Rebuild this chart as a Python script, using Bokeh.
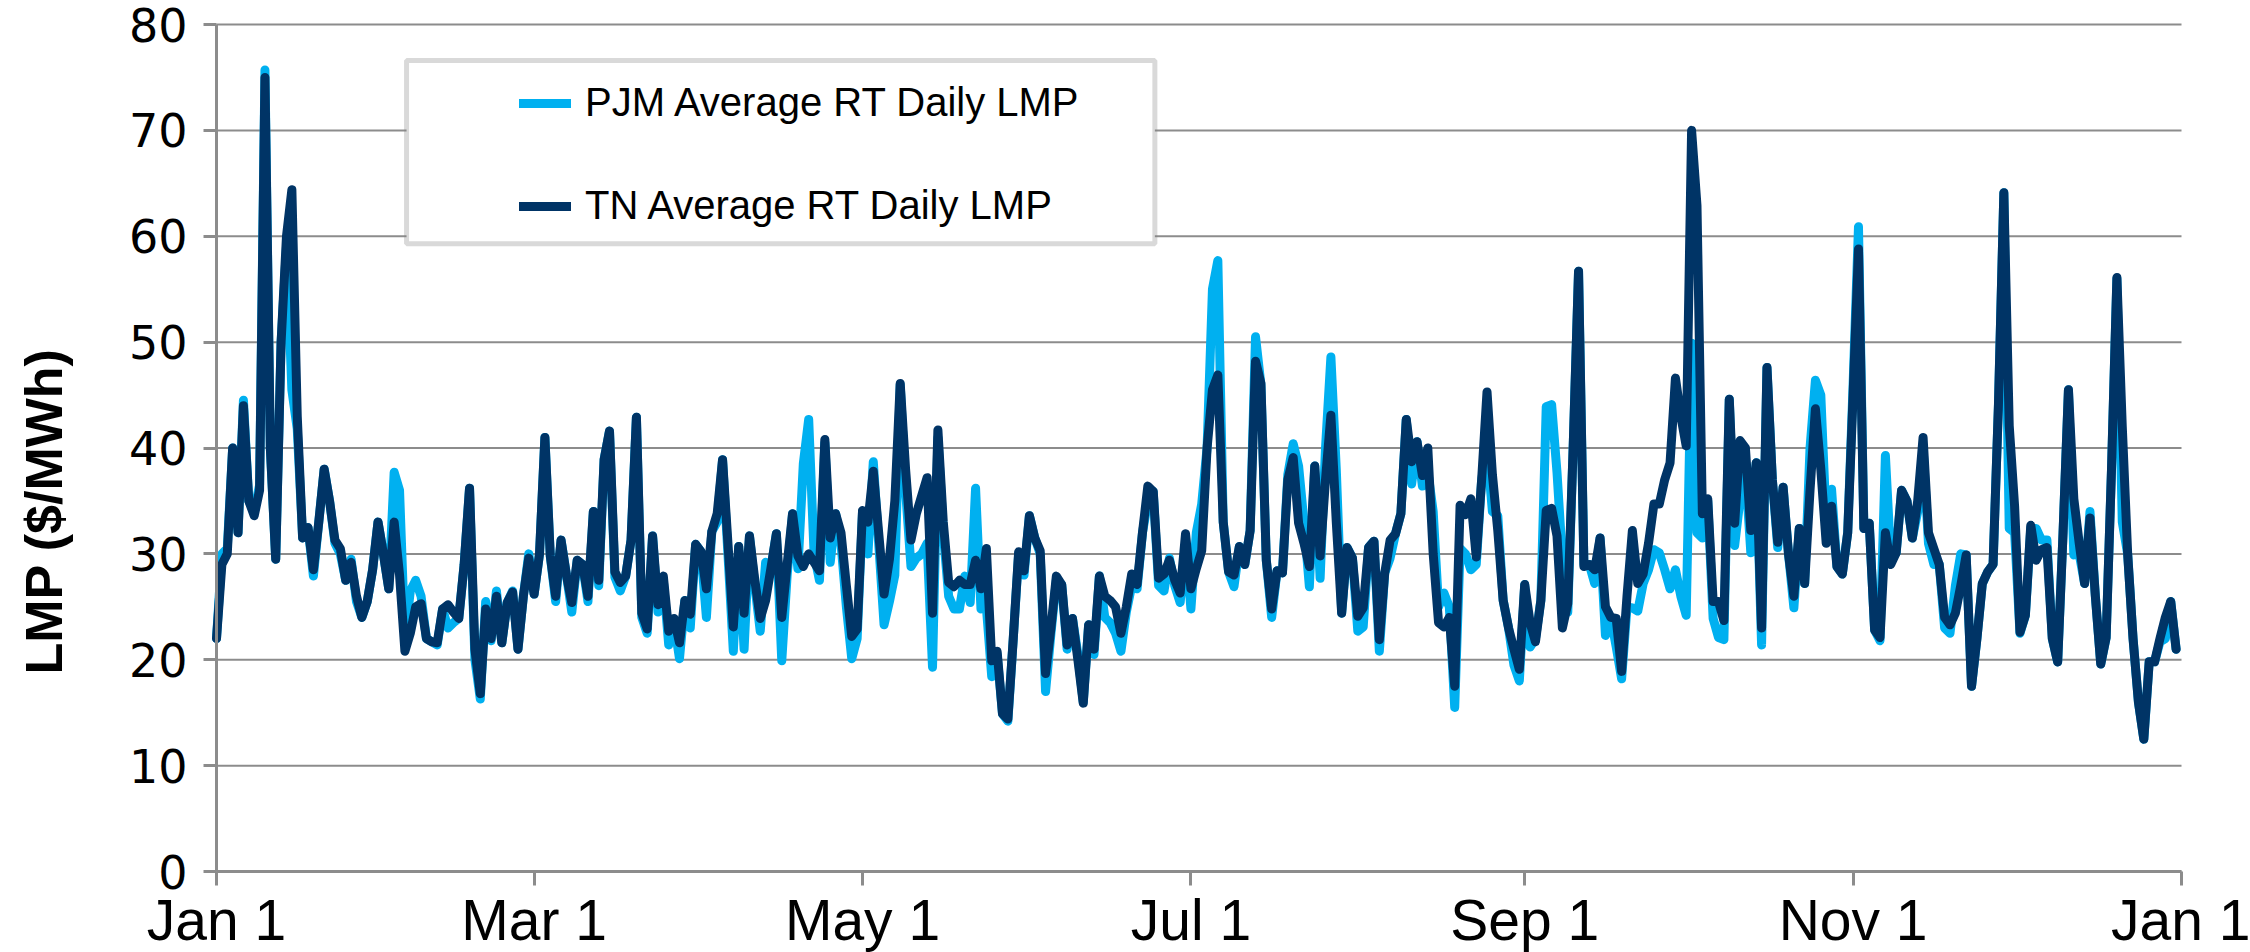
import math
import pandas as pd
from bokeh.plotting import figure
from bokeh.models import (Range1d, FixedTicker, Legend, LegendItem, Label,
                          BoxAnnotation)
from bokeh.embed import file_html
from bokeh.resources import INLINE

# ---------------- data ----------------
start_day = "2013-01-01"
n_days = 365
dates = pd.date_range(start_day, periods=n_days, freq="D")

pjm_lmp = [
    22, 30, 30.5, 40, 32, 44.5, 35, 34, 36.5, 75.7,
    40, 29.5, 50, 59, 45.5, 41.8, 31.5, 32.5, 27.9, 33,
    38, 35, 31, 30, 27.5, 29.5, 25.5, 24, 25.5, 28.5,
    33, 30, 26.7, 37.7, 36, 22, 26.5, 27.5, 26, 22,
    21.7, 21.4, 24.8, 23, 23.5, 23.9, 29, 36.2, 20, 16.3,
    25.5, 21.8, 26.5, 21.6, 25.4, 26.5, 21, 26, 30, 26.2,
    30, 41, 29.8, 25.5, 31.3, 28, 24.5, 29.4, 29, 25.5,
    34, 27, 38.9, 41.6, 27.8, 26.5, 27.9, 31.3, 42.9, 24,
    22.5, 31.7, 24.5, 27.5, 21.4, 23.5, 20.1, 25.6, 23, 30.9,
    30.2, 24, 32.1, 33, 38.9, 30, 20.8, 30.7, 21, 31.7,
    27, 22.7, 29.2, 28.7, 31.9, 19.9, 28, 33.8, 28.6, 38.5,
    42.7, 30, 27.5, 40.5, 29.2, 33.8, 31, 25, 20.1, 22,
    34, 30, 38.7, 31, 23.3, 25.5, 28, 46, 36, 28.8,
    29.6, 30, 31, 19.3, 41, 32, 26, 24.8, 24.8, 27.9,
    25.4, 36.2, 24.8, 25, 18.4, 20.5, 14.9, 14.2, 22, 30,
    28, 33.6, 31.5, 30, 17, 22.5, 27.5, 27.1, 21, 23.9,
    20.5, 16, 23.3, 20.5, 27.9, 24, 23.5, 22.5, 20.8, 24.5,
    27, 26.7, 32, 35, 35.9, 27, 26.5, 29.6, 27, 25.4,
    31, 24.8, 32, 34.7, 40, 55, 57.7, 33, 28.3, 26.9,
    30.7, 29, 32.2, 50.5, 46, 29.4, 24, 28.4, 28.2, 37.5,
    40.4, 38.3, 33, 26.9, 38.3, 27.7, 40, 48.6, 38, 24.4,
    30.6, 29.6, 22.7, 23.1, 30.6, 31.2, 20.8, 28.2, 29.6, 31.9,
    33.8, 42.7, 36.6, 40.6, 36.4, 37.8, 34, 25, 26.3, 25,
    15.5, 30.5, 30, 28.5, 29, 37, 40, 34, 33.6, 25.6,
    23, 19.5, 18, 27.1, 21.2, 22, 25.6, 43.9, 44.1, 37.7,
    29.5, 24.5, 40, 56.7, 29, 29, 27.2, 31.5, 22.3, 24,
    21.2, 18.2, 25, 24.9, 24.6, 27.2, 28.5, 30.4, 30.1, 28.5,
    26.7, 28.5, 26, 24.2, 49.9, 32, 31.5, 35, 23.9, 22.1,
    21.9, 44.6, 30.8, 35.2, 38, 30.1, 38.6, 21.4, 47.6, 37,
    30.6, 36.3, 30, 24.9, 32.4, 27.2, 40, 46.4, 45, 33,
    36.1, 28.8, 28.1, 32, 46, 60.9, 32.4, 32.9, 22.8, 21.8,
    39.3, 29.5, 30.1, 36, 35, 31.5, 34, 40, 31, 29,
    29, 23, 22.5, 27, 30, 29.9, 17.5, 22, 27.2, 28.3,
    29, 44.1, 64.1, 32.4, 32, 22.5, 24.2, 32.4, 32.4, 31.3,
    31.3, 22, 19.8, 32, 45.5, 29.9, 30, 27.2, 34, 26,
    19.6, 22.1, 38, 56, 33, 30, 22, 16, 12.5, 19.8,
    19.8, 21.7, 22, 25.5, 21,
]

tn_lmp = [
    22, 29, 30, 40, 32, 44, 35, 33.6, 36, 75,
    40, 29.5, 50, 60, 64.4, 43, 31.5, 32.5, 28.5, 33,
    38, 35, 31.3, 30.5, 27.5, 29.2, 26, 24, 25.5, 28.5,
    33, 30, 26.7, 33, 28, 20.8, 22.5, 25, 25.3, 22,
    21.7, 21.6, 24.8, 25.2, 24.5, 23.9, 29, 36.2, 21, 16.8,
    24.8, 22, 26, 21.6, 25.4, 26.4, 21, 26, 29.6, 26.2,
    30, 41, 29.8, 26, 31.3, 28, 25.4, 29.4, 29, 26,
    34, 27.5, 38.9, 41.6, 28.3, 27.3, 27.9, 31.3, 42.9, 24.4,
    22.9, 31.7, 25.2, 27.9, 22.7, 23.9, 21.6, 25.6, 24.3, 30.9,
    30.2, 26.7, 32.1, 33.8, 38.9, 31, 23.1, 30.7, 24.4, 31.7,
    27.5, 23.9, 25.6, 28.7, 31.9, 24, 29, 33.8, 29.8, 28.8,
    30, 29.2, 28.4, 40.8, 31.5, 33.8, 32, 27, 22.2, 22.9,
    34.1, 33, 37.8, 32, 26.2, 29.5, 35, 46.1, 38, 31.3,
    33.8, 35.5, 37.2, 24.4, 41.7, 33, 27.3, 26.9, 27.5, 27.1,
    27.1, 29.4, 26.7, 30.5, 19.9, 20.8, 14.9, 14.4, 22, 30.2,
    28.4, 33.6, 31.5, 30.3, 18.7, 23, 27.9, 27.1, 21.4, 23.9,
    20, 15.9, 23.3, 21, 27.9, 26, 25.6, 25, 22.5, 25,
    28.1, 27.1, 32, 36.4, 35.9, 27.7, 28.1, 29.4, 27.5, 26.3,
    31.9, 26.7, 28.6, 30.3, 40, 45.5, 46.9, 33, 28.3, 28,
    30.7, 29, 32.2, 48.2, 46.1, 29.4, 24.8, 28.4, 28.2, 37,
    39.1, 32.9, 31, 28.8, 38.3, 29.8, 37, 43.1, 33, 24.4,
    30.6, 29.6, 24.1, 24.9, 30.6, 31.2, 21.9, 28.2, 31.3, 31.9,
    33.8, 42.7, 38.7, 40.6, 37.4, 40, 30, 23.5, 23.1, 24,
    17.5, 34.6, 33.7, 35.2, 29.7, 37, 45.3, 37.5, 32.2, 25.6,
    23, 21, 19.1, 27.1, 23.5, 21.7, 25.6, 34.1, 34.3, 31.7,
    23, 25.3, 40, 56.7, 28.8, 29, 28.5, 31.5, 25, 24,
    23.9, 18.9, 26, 32.2, 27.2, 28.1, 31, 34.7, 34.7, 37,
    38.6, 46.6, 43, 40.2, 70, 62.9, 33.8, 35.2, 25.5, 25.5,
    23.7, 44.6, 32.9, 40.7, 40, 32.2, 38.6, 23, 47.6, 37,
    31.1, 36.3, 30, 26, 32.4, 27.2, 36, 43.7, 38, 31,
    34.5, 28.8, 28.1, 32, 45, 58.8, 32.4, 32.9, 22.8, 22.1,
    32, 29, 30.1, 36, 35, 31.5, 35, 41, 32, 30.5,
    29, 24, 23.3, 24.4, 27, 29.9, 17.5, 22, 27.2, 28.3,
    29, 44.1, 64.1, 42.1, 34.5, 22.6, 24.2, 32.7, 29.4, 30.4,
    30.6, 22, 19.8, 32, 45.5, 35.2, 31, 27.2, 33.4, 26,
    19.6, 22.1, 38, 56.1, 42, 30, 22, 16, 12.5, 19.8,
    19.8, 22, 24, 25.5, 21,
]

series_names = ["PJM Average RT Daily LMP", "TN Average RT Daily LMP"]
x_tick_dates = ["2013-01-01", "2013-03-01", "2013-05-01", "2013-07-01",
                "2013-09-01", "2013-11-01", "2014-01-01"]
x_tick_labels = ["Jan 1", "Mar 1", "May 1", "Jul 1", "Sep 1", "Nov 1", "Jan 1"]
y_ticks = [0, 10, 20, 30, 40, 50, 60, 70, 80]
y_title = "LMP ($/MWh)"

# ---------------- styling / layout ----------------
PJM_COLOR = "#00B0F0"
TN_COLOR = "#003466"
GRID = "#8C8C8C"
FONT = "Liberation Sans"
Y_TICK_FONT = "DejaVu Sans"

W, H = 2250, 952
AX_LEFT, AX_RIGHT, AX_TOP, AX_BOTTOM = 216, 2181, 24, 871   # pixel box of axes


def ms(d):
    return pd.Timestamp(d).value / 1e6


x0, x1 = ms(x_tick_dates[0]), ms(x_tick_dates[-1])
y0, y1 = y_ticks[0], y_ticks[-1]
px_per_ms = (AX_RIGHT - AX_LEFT) / (x1 - x0)
px_per_y = (AX_BOTTOM - AX_TOP) / (y1 - y0)
day_ms = 86400000.0

x_range = Range1d(x0 - AX_LEFT / px_per_ms, x1 + (W - AX_RIGHT) / px_per_ms)
y_range = Range1d(y0 - (H - AX_BOTTOM) / px_per_y, y1 + AX_TOP / px_per_y)

p = figure(width=W, height=H, x_axis_type="datetime",
           output_backend="svg", toolbar_location=None,
           x_range=x_range, y_range=y_range,
           min_border_left=0, min_border_right=0,
           min_border_top=0, min_border_bottom=0)
p.outline_line_color = None
p.background_fill_color = "white"
p.xgrid.grid_line_color = None
p.ygrid.grid_line_color = None

# horizontal gridlines, only across the axis box
p.segment(x0=[x0] * len(y_ticks), y0=y_ticks, x1=[x1] * len(y_ticks),
          y1=y_ticks, line_color=GRID, line_width=2, level="underlay")

# axes pinned to the axis box
tick_ms = [ms(d) for d in x_tick_dates]
p.xaxis.ticker = FixedTicker(ticks=tick_ms)
p.xaxis.major_label_overrides = {t: lab for t, lab in zip(tick_ms, x_tick_labels)}
p.xaxis.fixed_location = y0
p.xaxis.bounds = (x0, x1)
p.yaxis.ticker = FixedTicker(ticks=y_ticks)
p.yaxis.fixed_location = x0
p.yaxis.bounds = (y0, y1)
for ax in (p.xaxis[0], p.yaxis[0]):
    ax.axis_line_color = GRID
    ax.axis_line_width = 3
    ax.major_tick_line_color = GRID
    ax.major_tick_line_width = 3
    ax.major_tick_in = 0
    ax.minor_tick_line_color = None
    ax.major_label_text_color = "black"
p.yaxis.major_label_text_font = Y_TICK_FONT
p.xaxis.major_label_text_font = FONT
p.yaxis.major_tick_out = 13
p.xaxis.major_tick_out = 14
p.yaxis.major_label_text_font_size = "46px"
p.yaxis.major_label_standoff = 16
p.xaxis.major_label_text_font_size = "57px"
p.xaxis.major_label_standoff = 2

# legend frame
box = BoxAnnotation(left=x0 + 35.3 * day_ms, right=x0 + 174.3 * day_ms,
                    top=76.6, bottom=59.3, fill_color="white", fill_alpha=1,
                    line_color="#808080", line_width=5)
p.add_layout(box)

# lines
r_pjm = p.line(list(dates), pjm_lmp, line_color=PJM_COLOR, line_width=9,
               line_join="round", line_cap="round")
r_tn = p.line(list(dates), tn_lmp, line_color=TN_COLOR, line_width=9,
              line_join="round", line_cap="round")

legend = Legend(items=[LegendItem(label=series_names[0], renderers=[r_pjm]),
                       LegendItem(label=series_names[1], renderers=[r_tn])],
                location=(519, 724), padding=0, margin=0, spacing=58,
                glyph_width=52, glyph_height=40, label_height=40,
                label_standoff=14, border_line_alpha=0,
                background_fill_alpha=0, label_text_font=FONT,
                label_text_font_size="40px", label_text_color="black")
p.add_layout(legend)

# y axis title
ylab = Label(x=x0 - (AX_LEFT - 43) / px_per_ms, y=(AX_BOTTOM - 674) / px_per_y,
             text=y_title, angle=math.pi / 2, text_align="left",
             text_baseline="middle", text_font=FONT, text_font_style="bold",
             text_font_size="52px", text_color="black")
p.add_layout(ylab)

open("out.html", "w").write(file_html(p, INLINE))
